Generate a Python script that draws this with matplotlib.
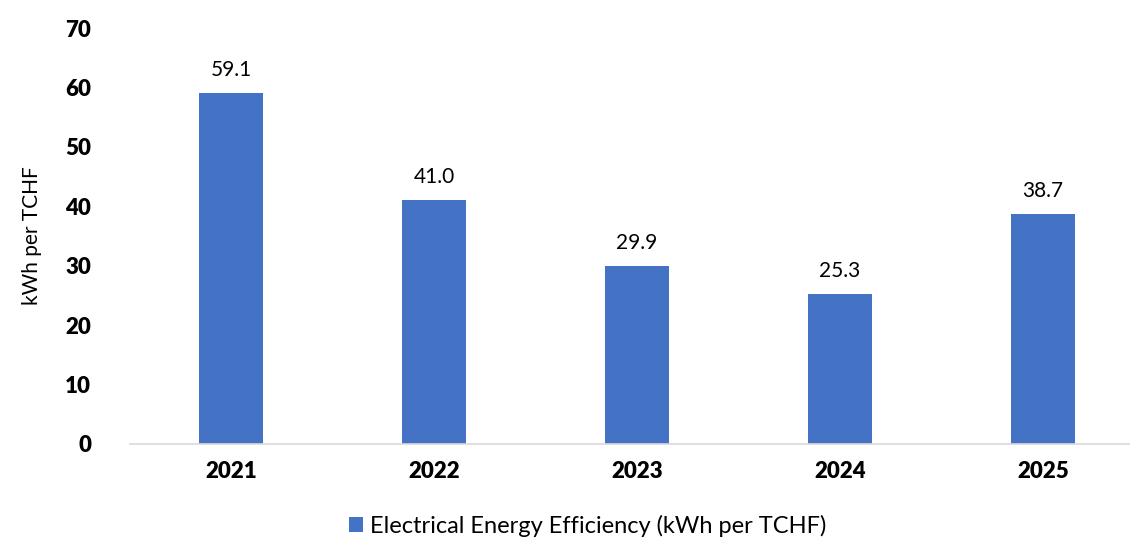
import matplotlib.pyplot as plt

years = ["2021", "2022", "2023", "2024", "2025"]
efficiency = [59.1, 41.0, 29.9, 25.3, 38.7]

plt.rcParams['font.family'] = ['Lato', 'DejaVu Sans']

fig = plt.figure(figsize=(11.3, 5.42), dpi=100)
ax = fig.add_axes([0.115, 0.181, 0.885, 0.767])

x = range(len(years))
bars = ax.bar(x, efficiency, width=0.315, color="#4472C4",
              label="Electrical Energy Efficiency (kWh per TCHF)")

for b, v in zip(bars, efficiency):
    ax.text(b.get_x() + b.get_width() / 2, v + 2.2, f"{v:.1f}",
            ha="center", va="bottom", fontsize=15, color="black")

ax.set_xlim(-0.5, 4.43)
ax.set_ylim(0, 70)
ax.set_yticks(range(0, 71, 10))
ax.set_xticks(list(x))
ax.set_xticklabels(years, fontsize=16, fontweight="heavy")
for lbl in ax.get_yticklabels():
    lbl.set_fontsize(16)
    lbl.set_fontweight("heavy")
ax.tick_params(axis="both", length=0)
ax.tick_params(axis="x", pad=12)
ax.tick_params(axis="y", pad=28)

for s in ["top", "right", "left"]:
    ax.spines[s].set_visible(False)
ax.spines["bottom"].set_color("#d9d9d9")
ax.spines["bottom"].set_linewidth(1.2)

ax.set_ylabel("kWh per TCHF", fontsize=15)
ax.yaxis.set_label_coords(-0.088, 0.5)

fig.legend(loc="lower center", bbox_to_anchor=(0.52, -0.03), frameon=False,
           fontsize=17, handlelength=0.6, handleheight=0.6, handletextpad=0.3)

fig.savefig("out.png", dpi=100)
